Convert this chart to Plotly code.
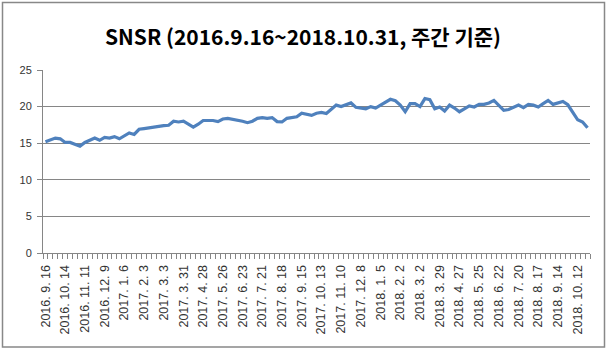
import plotly.graph_objects as go

title_text = "SNSR (2016.9.16~2018.10.31, 주간 기준)"

tick_labels = [
    "2016. 9. 16", "2016. 10. 14", "2016. 11. 11", "2016. 12. 9",
    "2017. 1. 6", "2017. 2. 3", "2017. 3. 3", "2017. 3. 31", "2017. 4. 28",
    "2017. 5. 26", "2017. 6. 23", "2017. 7. 21", "2017. 8. 18", "2017. 9. 15",
    "2017. 10. 13", "2017. 11. 10", "2017. 12. 8",
    "2018. 1. 5", "2018. 2. 2", "2018. 3. 2", "2018. 3. 29", "2018. 4. 27",
    "2018. 5. 25", "2018. 6. 22", "2018. 7. 20", "2018. 8. 17", "2018. 9. 14",
    "2018. 10. 12",
]

snsr_values = [
    15.2, 15.5, 15.7, 15.6, 15.1, 15.1, 14.9, 14.6, 15.1, 15.4,
    15.7, 15.4, 15.8, 15.7, 15.9, 15.6, 16.0, 16.4, 16.2, 16.9,
    17.0, 17.1, 17.3, 17.4, 17.4, 17.45, 18.0, 17.9, 18.0, 17.6,
    17.2, 17.6, 18.1, 18.1, 18.1, 17.95, 18.3, 18.4, 18.3, 18.2,
    18.0, 17.8, 18.0, 18.4, 18.5, 18.4, 18.5, 17.95, 17.9, 18.4,
    18.5, 18.6, 19.1, 18.95, 18.8, 19.1, 19.2, 19.05, 19.7, 20.2,
    20.0, 20.2, 20.5, 19.9, 19.8, 19.7, 20.0, 19.8, 20.2, 20.6,
    21.0, 20.8, 20.2, 19.3, 20.4, 20.4, 20.0, 21.1, 20.95, 19.7,
    19.95, 19.4, 20.2, 19.8, 19.3, 19.7, 20.1, 19.95, 20.3, 20.3,
    20.5, 20.85, 20.1, 19.5, 19.6, 19.9, 20.2, 19.85, 20.3, 20.2,
    19.95, 20.4, 20.85, 20.3, 20.5, 20.7, 20.25, 19.3, 18.2, 17.9,
    17.1,
]

label_every = 4
x_idx = list(range(len(snsr_values)))

W, H = 607, 350
ML, MR, MT, MB = 43, 17, 70, 97
pw, ph = W - ML - MR, H - MT - MB

fig = go.Figure()
fig.add_trace(go.Scatter(
    x=x_idx, y=snsr_values, mode="lines",
    line=dict(color="#4F81BD", width=3.2),
    hoverinfo="skip", showlegend=False,
))

axis_color = "#868686"
fig.update_layout(
    width=W, height=H,
    margin=dict(l=ML, r=MR, t=MT, b=MB),
    paper_bgcolor="white", plot_bgcolor="white",
    title=dict(
        text=title_text, x=(303 - ML) / pw, xref="paper", xanchor="center",
        y=1 - 38 / H, yanchor="middle",
        font=dict(family="Noto Sans CJK KR", size=21, color="black", weight="bold"),
    ),
    xaxis=dict(
        range=[-0.5, len(snsr_values) - 0.5],
        tickmode="array",
        tickvals=x_idx[::label_every],
        ticktext=tick_labels,
        tickangle=-90,
        ticks="",
        ticklabelstandoff=6,
        tickfont=dict(family="Liberation Sans, Arial", size=12.5, color="#333"),
        showgrid=False, zeroline=False,
        showline=True, linecolor=axis_color, linewidth=1,
        minor=dict(ticks="outside", tick0=-0.5, dtick=1, ticklen=5,
                   tickcolor=axis_color, showgrid=False),
    ),
    yaxis=dict(
        range=[0, 25], dtick=5,
        ticks="outside", ticklen=5, tickcolor=axis_color,
        tickfont=dict(family="Liberation Sans, Arial", size=11, color="#333"),
        showgrid=True, gridcolor=axis_color, gridwidth=1,
        zeroline=False,
        showline=True, linecolor=axis_color, linewidth=1,
        ticklabelstandoff=3,
    ),
    shapes=[dict(
        type="rect", xref="paper", yref="paper",
        x0=(2.5 - ML) / pw, x1=(604.5 - ML) / pw,
        y0=-(347 - MT - ph) / ph, y1=1 + (MT - 2.5) / ph,
        line=dict(color="#888888", width=1.5), fillcolor="rgba(0,0,0,0)",
        layer="below",
    )],
)

fig.write_html("out.html")
